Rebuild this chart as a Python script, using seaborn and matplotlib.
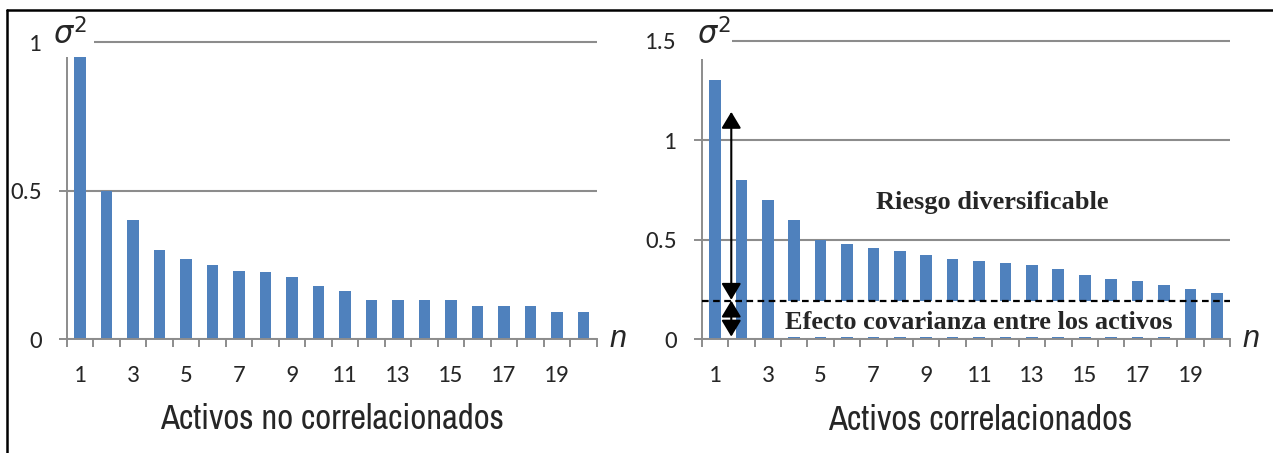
import numpy as np
import pandas as pd
import matplotlib
matplotlib.use('Agg')
import matplotlib.pyplot as plt
from matplotlib.patches import Rectangle
from matplotlib.lines import Line2D
import seaborn as sns

sns.set_style('white')
plt.rcParams['font.family'] = ['Archivo Narrow', 'Roboto Condensed', 'Liberation Sans', 'DejaVu Sans']

# data
n_activos = list(range(1, 21))
var_no_corr = [0.95, 0.50, 0.40, 0.30, 0.27, 0.25, 0.23, 0.225, 0.21, 0.18,
               0.16, 0.13, 0.13, 0.13, 0.13, 0.11, 0.11, 0.11, 0.09, 0.09]
var_corr = [1.30, 0.80, 0.70, 0.60, 0.50, 0.48, 0.46, 0.44, 0.42, 0.40,
            0.39, 0.38, 0.37, 0.35, 0.32, 0.30, 0.29, 0.27, 0.25, 0.23]
tick_labels = [str(i) for i in range(1, 20, 2)]
yticks_left = [0, 0.5, 1]
yticks_right = [0, 0.5, 1, 1.5]
covarianza = 0.19
titulos = ['Activos no correlacionados', 'Activos correlacionados']

bar_color = '#4F81BD'
grid_color = '#8C8C8C'
W, H = 1273, 453

fig = plt.figure(figsize=(W / 100, H / 100), dpi=100)
ax1 = fig.add_axes([66.7 / W, (H - 339) / H, 530 / W, 1.02 * 297 / H])
ax2 = fig.add_axes([701.7 / W, (H - 339) / H, 528.3 / W, 1.53 * 198.9 / H])


def style_axes(ax, values, yticks, ylim, title, title_x):
    df = pd.DataFrame({'n': n_activos, 'var': values})
    sns.barplot(data=df, x='n', y='var', color=bar_color, width=0.44,
                saturation=1, linewidth=0, ax=ax, zorder=2)
    ax.set_xlim(-0.5, 19.5)
    ax.set_ylim(0, ylim)
    ax.set_xlabel('')
    ax.set_ylabel('')
    for s in ['top', 'right']:
        ax.spines[s].set_visible(False)
    for s in ['left', 'bottom']:
        ax.spines[s].set_color(grid_color)
        ax.spines[s].set_linewidth(1.4)
        ax.spines[s].set_zorder(3)
    ax.set_yticks(yticks)
    ax.set_yticklabels([f'{v:g}' for v in yticks], fontsize=18, family='Carlito')
    ax.yaxis.grid(True, color=grid_color, linewidth=1.5, zorder=1)
    ax.set_axisbelow(True)
    # tick marks at category boundaries, labels at odd n
    ax.set_xticks(np.arange(-0.5, 20, 1))
    ax.set_xticklabels([''] * 21)
    ax.set_xticks(np.arange(0, 20, 2), minor=True)
    ax.set_xticklabels(tick_labels, minor=True, fontsize=18, family='Carlito')
    ax.tick_params(axis='x', which='major', length=6, width=1.4, color=grid_color, direction='out', bottom=True)
    ax.tick_params(axis='x', which='minor', length=0, pad=19)
    ax.tick_params(axis='y', length=6, width=1.4, color=grid_color, direction='out', pad=12, left=True)
    ax.text(title_x, -0.265, title, transform=ax.transAxes, ha='center', va='center', fontsize=25)
    ax.text(1.04, 0, 'n', transform=ax.transAxes, ha='center', va='center',
            fontsize=22, style='italic', family='Liberation Sans')


style_axes(ax1, var_no_corr, yticks_left, 1.02, titulos[0], 0.5)
style_axes(ax2, var_corr, yticks_right, 1.53, titulos[1], 0.527)

# white boxes with sigma^2 over the top of the y axis
ax1.add_patch(Rectangle((-0.041, 0.95 / 1.02), 0.093, 0.2, transform=ax1.transAxes,
                        facecolor='white', edgecolor='none', clip_on=False, zorder=5))
ax1.text(0.006, 1.03 / 1.02, r'$\sigma^2$', transform=ax1.transAxes, ha='center', va='center',
         fontsize=22, zorder=6)
ax2.add_patch(Rectangle((-0.032, 1.408 / 1.53), 0.09, 0.2, transform=ax2.transAxes,
                        facecolor='white', edgecolor='none', clip_on=False, zorder=5))
ax2.text(0.023, 1.54 / 1.53, r'$\sigma^2$', transform=ax2.transAxes, ha='center', va='center',
         fontsize=22, zorder=6)

# annotations on the correlated chart
ax2.add_patch(Rectangle((2.28, 0.012), 15.48, covarianza - 0.012, facecolor='white',
                        edgecolor='none', zorder=4))
ax2.axhline(covarianza, color='black', linewidth=1.6, linestyle=(0, (3, 2)), zorder=5)
arrow = dict(arrowstyle='<|-|>,head_length=0.5,head_width=0.3', color='black', lw=1.5,
             shrinkA=0, shrinkB=0, mutation_scale=20)
ax2.annotate('', xy=(0.62, 1.142), xytext=(0.62, 0.197), arrowprops=arrow, zorder=6)
ax2.annotate('', xy=(0.62, 0.193), xytext=(0.62, 0.012), arrowprops=arrow, zorder=6)
ax2.text(10.49, 0.684, 'Riesgo diversificable', ha='center', va='center', fontsize=19,
         fontweight='bold', family='Liberation Serif', zorder=6)
ax2.text(9.98, 0.085, 'Efecto covarianza entre los activos', ha='center', va='center',
         fontsize=19, fontweight='bold', family='Liberation Serif', zorder=6)

# frame lines (top and left)
fig.add_artist(Line2D([7 / W, 1], [1 - 10 / H, 1 - 10 / H], color='black', linewidth=1.8))
fig.add_artist(Line2D([7 / W, 7 / W], [0, 1 - 10 / H], color='black', linewidth=1.8))

fig.savefig('out.png', dpi=100)
